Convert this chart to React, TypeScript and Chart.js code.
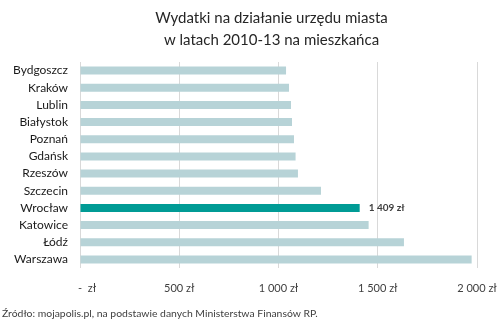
import React, { useEffect, useRef } from "react";
import { Chart, registerables } from "chart.js";

Chart.register(...registerables);

const titleLines = ["Wydatki na działanie urzędu miasta", "w latach 2010-13 na mieszkańca"];
const sourceText = "Źródło: mojapolis.pl, na podstawie danych Ministerstwa Finansów RP.";

const cities = [
  "Bydgoszcz",
  "Kraków",
  "Lublin",
  "Białystok",
  "Poznań",
  "Gdańsk",
  "Rzeszów",
  "Szczecin",
  "Wrocław",
  "Katowice",
  "Łódź",
  "Warszawa",
];
const values = [1038, 1053, 1063, 1068, 1078, 1086, 1098, 1214, 1409, 1454, 1632, 1973];
const highlightCity = "Wrocław";
const xTickValues = [0, 500, 1000, 1500, 2000];

const FONT = "Lato, 'Open Sans', sans-serif";
const LIGHT = "#b7d3d7";
const TEAL = "#009b95";

function fmt(v: number): string {
  if (v === 0) return "     -  zł";
  return String(Math.round(v)).replace(/\B(?=(\d{3})+(?!\d))/g, " ") + " zł";
}

export default function App() {
  const ref = useRef<HTMLCanvasElement | null>(null);

  useEffect(() => {
    if (!ref.current) return;
    const textPlugin = {
      id: "texts",
      afterDraw(chart: any) {
        const ctx = chart.ctx;
        const area = chart.chartArea;
        ctx.save();
        ctx.fillStyle = "#262626";
        ctx.font = `15px ${FONT}`;
        ctx.textAlign = "center";
        ctx.textBaseline = "middle";
        const cx = (area.left + area.right) / 2 - 7;
        titleLines.forEach((t, i) => ctx.fillText(t, cx, 18 + i * 22));
        ctx.font = `10.4px ${FONT}`;
        ctx.fillStyle = "#404040";
        ctx.textAlign = "left";
        ctx.fillText(sourceText, 2, 314);
        const idx = cities.indexOf(highlightCity);
        const el = chart.getDatasetMeta(0).data[idx];
        if (el) {
          ctx.font = `bold 10px ${FONT}`;
          ctx.fillStyle = "#404040";
          ctx.fillText(fmt(values[idx]), el.x + 9, el.y);
        }
        ctx.restore();
      },
    };

    const chart = new Chart(ref.current, {
      type: "bar",
      data: {
        labels: cities,
        datasets: [
          {
            data: values,
            backgroundColor: cities.map((c) => (c === highlightCity ? TEAL : LIGHT)),
            borderWidth: 0,
            barPercentage: 0.47,
            categoryPercentage: 1,
          },
        ],
      },
      options: {
        indexAxis: "y",
        animation: false,
        responsive: false,
        maintainAspectRatio: false,
        layout: { padding: { top: 62, right: 23, left: 0, bottom: 0 } },
        plugins: {
          legend: { display: false },
          title: { display: false },
          tooltip: { enabled: false },
        },
        scales: {
          x: {
            type: "linear",
            min: 0,
            max: 2000,
            afterFit: (s: any) => {
              s.height = 57;
              s.paddingRight = 0;
              s.paddingLeft = 0;
            },
            afterBuildTicks: (s: any) => {
              s.ticks = xTickValues.map((v) => ({ value: v }));
            },
            grid: { color: "#d9d9d9", drawTicks: false, lineWidth: 1 },
            border: { display: false },
            ticks: {
              padding: 14,
              color: "#404040",
              font: { family: FONT, size: 11 },
              maxRotation: 0,
              callback: (v: any) => fmt(Number(v)),
            },
          },
          y: {
            afterFit: (s: any) => {
              s.width = 80;
              s.paddingTop = 0;
              s.paddingBottom = 0;
            },
            grid: { display: false, drawTicks: false },
            border: { display: false },
            ticks: {
              padding: 12,
              autoSkip: false,
              color: "#1a1a1a",
              font: { family: FONT, size: 12 },
            },
          },
        },
      },
      plugins: [textPlugin],
    } as any);
    return () => chart.destroy();
  }, []);

  return (
    <div style={{ position: "absolute", left: 0, top: 0, width: 500, height: 325, background: "#fff" }}>
      <canvas ref={ref} width={500} height={325} style={{ width: 500, height: 325, display: "block" }} />
    </div>
  );
}
